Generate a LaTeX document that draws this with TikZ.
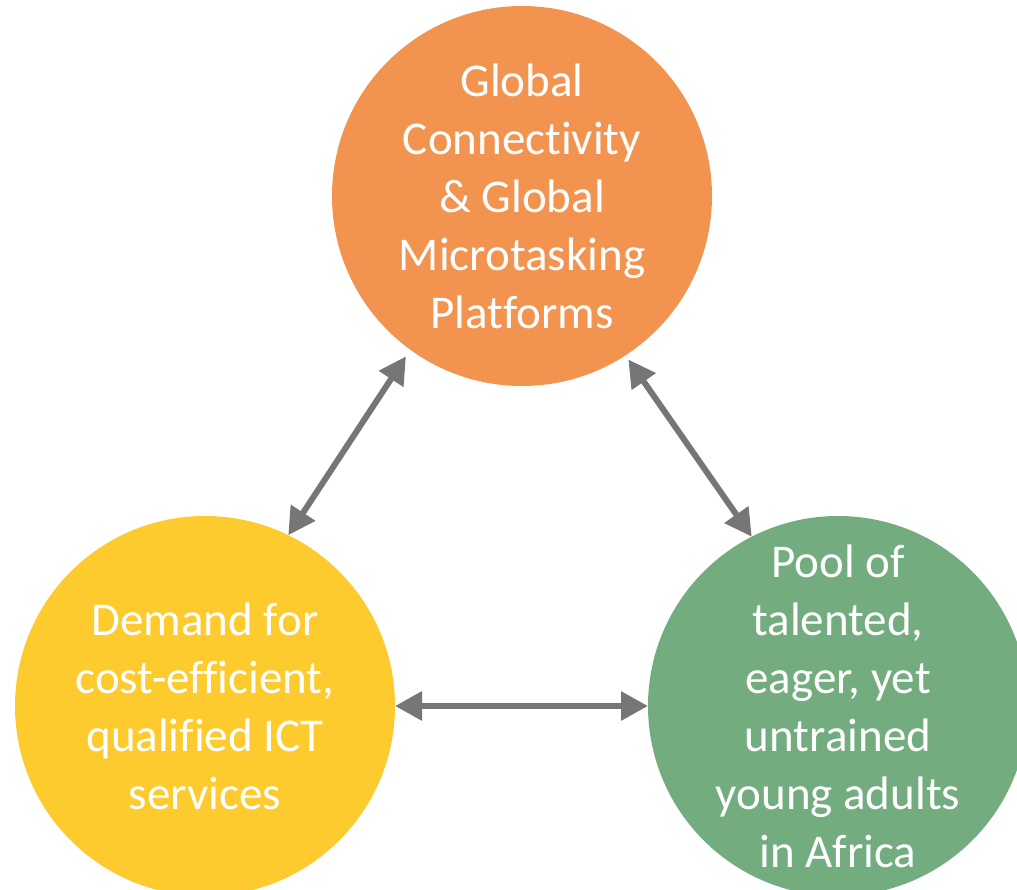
\documentclass[tikz,border=0pt]{standalone}
\usepackage{fontspec}
\setmainfont{Carlito}[Ligatures={NoCommon}]
\usetikzlibrary{arrows.meta}
\definecolor{corange}{HTML}{F39350}
\definecolor{cyellow}{HTML}{FECB2F}
\definecolor{cgreen}{HTML}{73AC7F}
\definecolor{cgray}{HTML}{767676}
\begin{document}
\begin{tikzpicture}[x=1pt,y=-1pt,
  bubble/.style={circle,minimum size=380pt,inner sep=0pt,outer sep=0pt},
  bubbletext/.style={inner sep=0pt,text=white,align=center,
    font=\fontsize{47}{58}\selectfont},
  link/.style={draw=cgray,line width=6pt,{Triangle[length=27pt,width=28pt]}-{Triangle[length=27pt,width=28pt]}}]
\useasboundingbox (0,0) rectangle (1017,890);
\node[bubble,fill=corange] (top) at (522,196) {};
\node[bubble,fill=cyellow] (left) at (205,706) {};
\node[bubble,fill=cgreen] (right) at (838,706) {};
\node[bubbletext] (toptext) at (top.center) {Global\\Connectivity\\\& Global\\Microtasking\\Platforms};
\node[bubbletext] (lefttext) at (left.center) {Demand for\\cost-efficient,\\qualified ICT\\services};
\node[bubbletext] (righttext) at (right.center) {Pool of\\talented,\\eager, yet\\untrained\\young adults\\in Africa};
\draw[link,shorten <=8pt] (top.234.5) -- (left.64.1);
\draw[link,shorten <=5pt] (top.303.9) -- (right.117.4);
\draw[link] (left.0.6) -- (right.180);
\end{tikzpicture}
\end{document}
